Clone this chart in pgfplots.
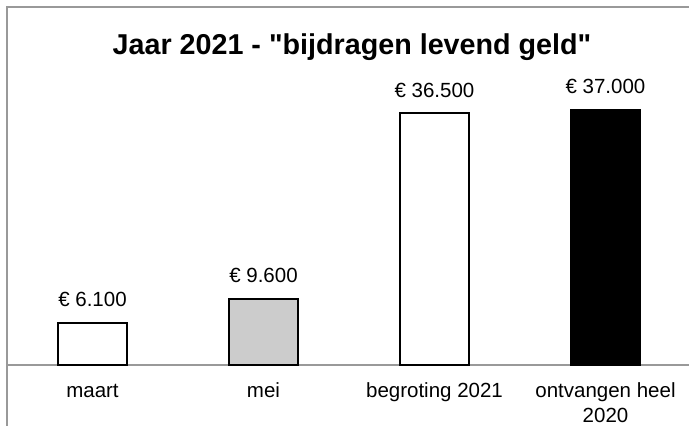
\documentclass[border=0pt]{standalone}
\usepackage{fontspec}
\setmainfont{Liberation Sans}[Ligatures=TeXOff]
\usepackage{pgfplots}
\pgfplotsset{compat=1.18}
\begin{document}
\fontsize{10.25}{12.4}\selectfont
\begin{tikzpicture}
\useasboundingbox (0,0) rectangle (344.5pt,212.5pt);
\clip (0,0) rectangle (344.5pt,212.5pt);
\draw[black!40, line width=0.75pt] (3.5pt,-20pt) -- (3.5pt,209pt) -- (400pt,209pt);
\node[anchor=base, inner sep=0pt, font=\bfseries\fontsize{14.35}{17}\selectfont] at (176pt,185.3pt) {Jaar 2021 - "bijdragen levend geld"};
\begin{axis}[
  at={(3.5pt,30pt)}, anchor=south west,
  scale only axis, width=342pt, height=138pt,
  xmin=-0.5, xmax=3.5, ymin=0, ymax=40000,
  axis x line*=bottom, axis y line=none,
  axis line style={black!40, line width=0.75pt, -},
  xtick={0,1,2,3},
  xticklabels={maart, mei, begroting 2021, {\begin{tabular}[t]{@{}c@{}}ontvangen heel\\2020\end{tabular}}},
  major tick length=0pt,
  xticklabel style={anchor=base, yshift=-16.25pt, inner sep=0pt},
  ybar, bar width=34.5pt, bar shift=0pt,
  clip=false,
  nodes near coords={€ \pgfmathprintnumber{\pgfplotspointmeta}},
  nodes near coords style={anchor=base, yshift=8pt, inner sep=0pt, black},
  /pgf/number format/.cd, fixed, precision=0, 1000 sep={.}, assume math mode=true,
]
\addplot[fill=white, draw=black, line width=0.9pt, bar shift=0pt] coordinates {(0,6100)};
\addplot[fill=black!20, draw=black, line width=0.9pt, bar shift=0pt] coordinates {(1,9600)};
\addplot[fill=white, draw=black, line width=0.9pt, bar shift=0pt] coordinates {(2,36500)};
\addplot[fill=black, draw=black, line width=0.9pt, bar shift=0pt] coordinates {(3,37000)};
\end{axis}
\end{tikzpicture}
\end{document}
